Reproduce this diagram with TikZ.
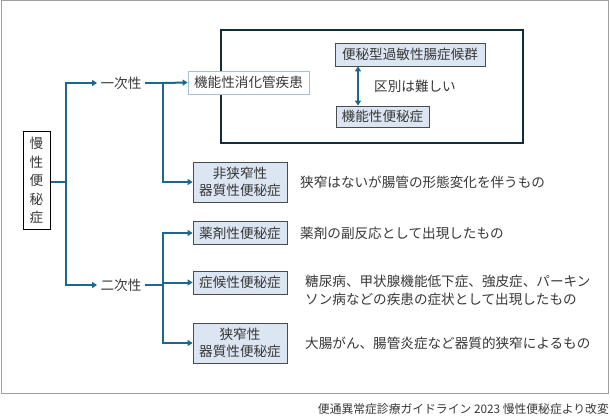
\documentclass[tikz,border=0pt]{standalone}
\usepackage{fontspec}
\setmainfont{Noto Sans CJK JP}
\usetikzlibrary{arrows.meta}
\definecolor{arr}{RGB}{28,104,140}
\definecolor{boxfill}{RGB}{220,230,242}
\definecolor{txt}{RGB}{55,55,55}
\definecolor{frame}{RGB}{160,160,160}
\definecolor{bigbox}{RGB}{20,45,60}
\tikzset{
  every node/.style={text=txt,font=\fontsize{13.6}{17}\selectfont},
  bluebox/.style={draw=txt!90,fill=boxfill,line width=0.8pt,inner sep=0pt,minimum height=23pt,align=center},
  conn/.style={draw=arr,line width=2pt},
  arrowc/.style={draw=arr,line width=2pt,-{Triangle[length=5pt,width=6pt]}},
  desc/.style={anchor=west,align=left,inner sep=0pt},
}
\begin{document}
\begin{tikzpicture}[x=1pt,y=-1pt]
\useasboundingbox (0,0) rectangle (610,417);
\draw[frame,line width=1pt] (1,1) rectangle (608,393);
% root
\node[draw=black,fill=white,line width=1pt,minimum width=27pt,minimum height=97pt,inner sep=0pt,align=center,font=\fontsize{13.6}{18.5}\selectfont] (root) at (36.5,180.5) {慢\\性\\便\\秘\\症};
\node (p1) at (121,83) {一次性};
\node (p2) at (121,285) {二次性};
\coordinate (j0) at (66,182);
\draw[conn] (root.east |- j0) -- (j0);
\draw[arrowc] (j0) |- (p1.west);
\draw[arrowc] (j0) |- (p2.west);
% big box
\draw[bigbox,line width=2pt] (221,30) rectangle (523,143);
\node[draw=arr!40!white,fill=white,line width=0.8pt,minimum width=121pt,minimum height=23pt,inner sep=0pt] (fgid) at (248.5,82.5) {機能性消化管疾患};
\node[bluebox,minimum width=150pt] (ibs) at (410,54.5) {便秘型過敏性腸症候群};
\node[bluebox,minimum width=93pt,minimum height=21pt] (fc) at (382.5,116.5) {機能性便秘症};
\draw[draw=arr,line width=2pt,{Triangle[length=5pt,width=6pt]}-{Triangle[length=5pt,width=6pt]}] (ibs.south -| 358,0) -- (fc.north -| 358,0);
\node (dist) at (415,86) {区別は難しい};
% primary branch
\node[bluebox,minimum width=94pt,minimum height=40pt] (ns) at (240,182) {非狭窄性\\器質性便秘症};
\coordinate (j1) at (163,83);
\draw[conn] (p1.east) -- (j1);
\draw[arrowc] (j1) -- (fgid.west);
\draw[arrowc] (j1) |- (ns.west);
\node[desc] (d1) at (300,182) {狭窄はないが腸管の形態変化を伴うもの};
% secondary branch
\node[bluebox,minimum width=94pt] (dr) at (240,233) {薬剤性便秘症};
\node[bluebox,minimum width=94pt] (sy) at (240,282.5) {症候性便秘症};
\node[bluebox,minimum width=94pt,minimum height=40pt] (st) at (240,343) {狭窄性\\器質性便秘症};
\coordinate (j2) at (163,285);
\coordinate (j3) at (163,282.5);
\draw[conn] (p2.east) -- (j2);
\draw[arrowc] (j3) |- (dr.west);
\draw[arrowc] (j3) -- (sy.west);
\draw[arrowc] (j3) |- (st.west);
\node[desc,font=\fontsize{13.6}{17}\selectfont] (d2) at (300,233) {薬剤の副反応として出現したもの};
\node[desc,font=\fontsize{13.6}{17.5}\selectfont] (d3) at (305,290.5) {糖尿病、甲状腺機能低下症、強皮症、パーキン\\ソン病などの疾患の症状として出現したもの};
\node[desc] (d4) at (305,343) {大腸がん、腸管炎症など器質的狭窄によるもの};
\node[anchor=east,inner sep=0pt,font=\fontsize{11.8}{13}\selectfont] (cap) at (609,409) {便通異常症診療ガイドライン 2023 慢性便秘症より改変};
\end{tikzpicture}
\end{document}
